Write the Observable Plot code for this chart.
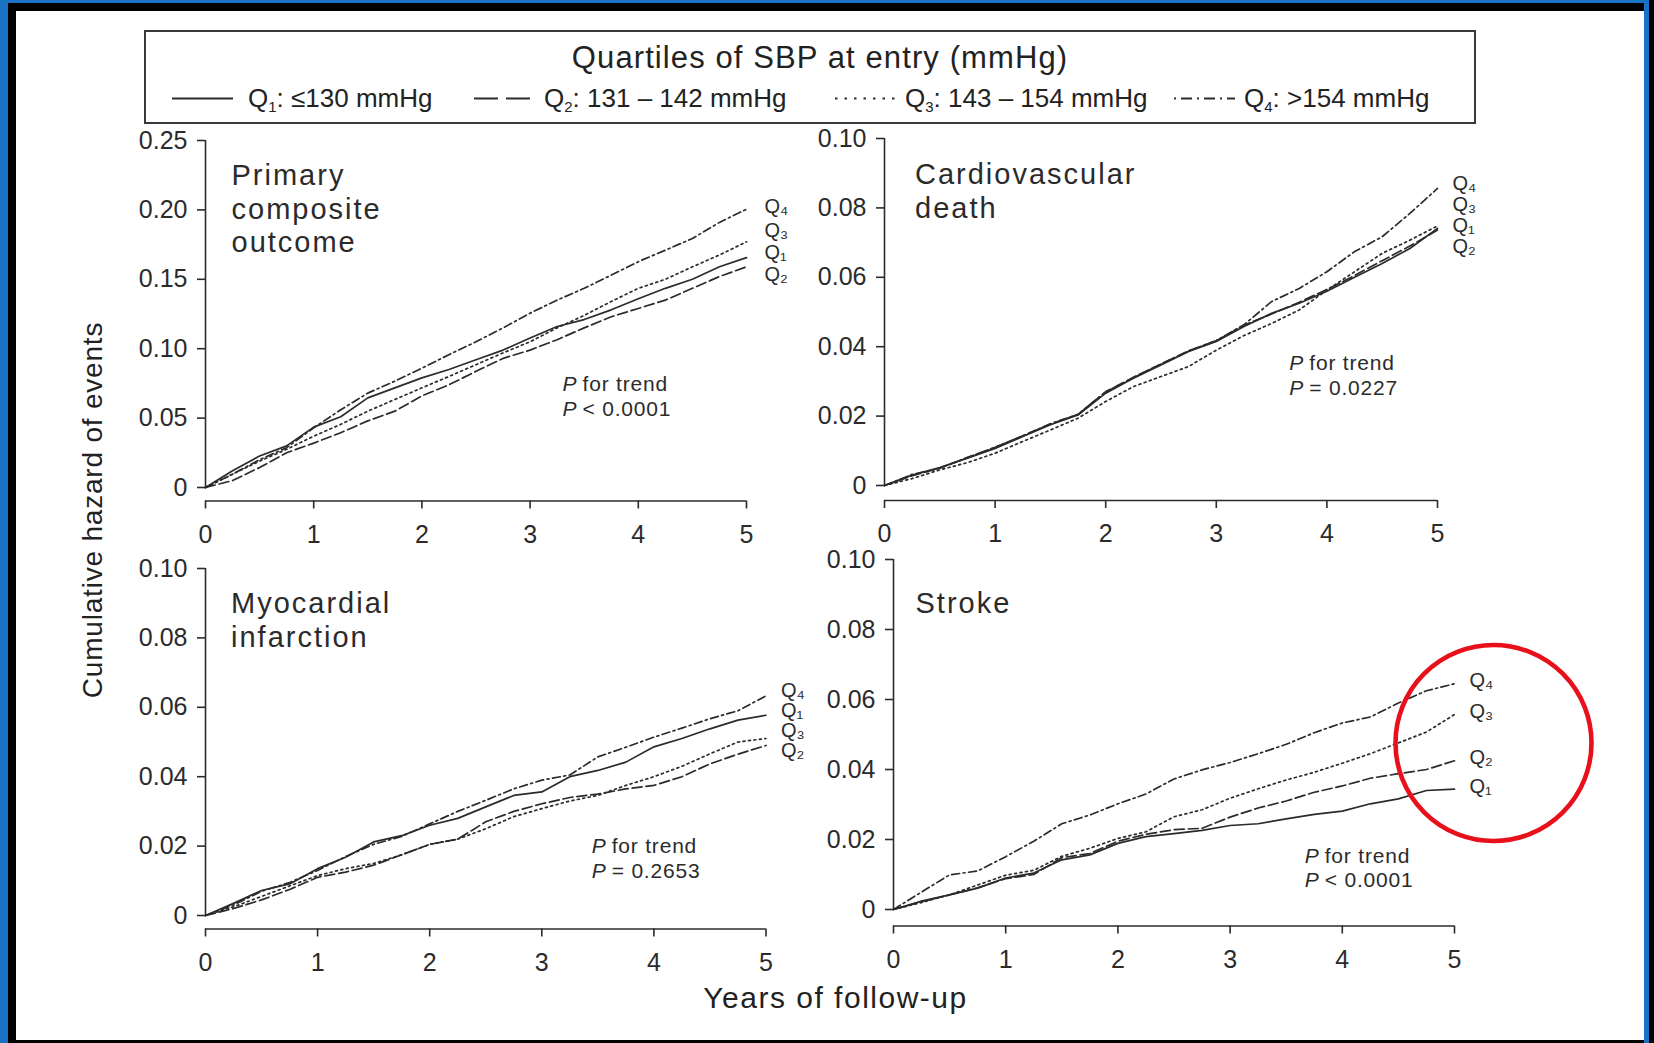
<!DOCTYPE html>
<html>
<head>
<meta charset="utf-8">
<title>Cumulative hazard of events by quartile of SBP at entry</title>
<script src="https://cdn.jsdelivr.net/npm/d3@7"></script>
<script src="https://cdn.jsdelivr.net/npm/@observablehq/plot@0.6"></script>
<style>
  html, body { margin: 0; padding: 0; background: #000; }
  #page { position: relative; width: 1654px; height: 1043px; overflow: hidden; background: #000;
          font-family: "Liberation Sans", Arial, sans-serif; color: #222; }
  .edge-blue { position: absolute; left: 0; top: 0; width: 1649px; height: 1043px; background: #1a72c4; }
  .edge-black { position: absolute; left: 8px; top: 3px; width: 1636px; height: 1040px; background: #000; }
  .sheet { position: absolute; left: 16px; top: 11px; width: 1628px; height: 1029px; background: #fff; }
  #legend { position: absolute; left: 143.5px; top: 29.5px; width: 1332px; height: 94px;
            box-sizing: border-box; border: 2px solid #3a3a3a; }
  #legend .title { position: absolute; left: 21px; right: 0; top: 26.5px; transform: translateY(-50%);
                   text-align: center; font-size: 31px; letter-spacing: 1.1px; white-space: nowrap; }
  #legend .entry { position: absolute; top: 66.5px; transform: translateY(-50%); display: flex;
                   align-items: center; font-size: 26px; white-space: nowrap; }
  #legend sub { font-size: 15px; vertical-align: -5px; line-height: 0; }
  .panel { position: absolute; }
  .axis-title { position: absolute; white-space: nowrap; transform: translate(-50%, -50%); }
</style>
</head>
<body>
<div id="page">
  <div class="edge-blue"></div>
  <div class="edge-black"></div>
  <div class="sheet"></div>
  <div id="legend"></div>
</div>
<script>
// ---- data -------------------------------------------------------------
const years = [0, 0.25, 0.5, 0.75, 1, 1.25, 1.5, 1.75, 2, 2.25, 2.5, 2.75,
               3, 3.25, 3.5, 3.75, 4, 4.25, 4.5, 4.75, 5];
const yearTicks = [0, 1, 2, 3, 4, 5];
const primaryTicks = [0, 0.05, 0.10, 0.15, 0.20, 0.25];
const eventTicks = [0, 0.02, 0.04, 0.06, 0.08, 0.10];

const quartiles = ["Q1", "Q2", "Q3", "Q4"];
const quartileRanges = ["≤130 mmHg", "131 – 142 mmHg", "143 – 154 mmHg", ">154 mmHg"];
const outcomes = ["Primary\ncomposite\noutcome", "Cardiovascular\ndeath", "Myocardial\ninfarction", "Stroke"];
const trendP = ["< 0.0001", "= 0.0227", "= 0.2653", "< 0.0001"];

// cumulative hazard, primary composite outcome
const primaryQ1 = [0, 0.0120, 0.0227, 0.0300, 0.0435, 0.0510, 0.0646, 0.0718, 0.0790, 0.0850, 0.0920,
                   0.0990, 0.1077, 0.1160, 0.1210, 0.1280, 0.1360, 0.1435, 0.1500, 0.1590, 0.1656];
const primaryQ2 = [0, 0.0050, 0.0144, 0.0250, 0.0320, 0.0395, 0.0480, 0.0550, 0.0660, 0.0740, 0.0837,
                   0.0930, 0.0990, 0.1065, 0.1150, 0.1230, 0.1290, 0.1350, 0.1435, 0.1520, 0.1590];
const primaryQ3 = [0, 0.0096, 0.0190, 0.0275, 0.0370, 0.0455, 0.0550, 0.0634, 0.0718, 0.0800, 0.0885,
                   0.0970, 0.1050, 0.1150, 0.1240, 0.1340, 0.1435, 0.1500, 0.1590, 0.1675, 0.1770];
const primaryQ4 = [0, 0.0096, 0.0200, 0.0287, 0.0430, 0.0560, 0.0680, 0.0766, 0.0860, 0.0957, 0.1050,
                   0.1150, 0.1256, 0.1350, 0.1435, 0.1530, 0.1627, 0.1710, 0.1794, 0.1910, 0.2005];

// cumulative hazard, cardiovascular death
const cvDeathQ1 = [0, 0.0030, 0.0052, 0.0079, 0.0107, 0.0141, 0.0175, 0.0203, 0.0266, 0.0309, 0.0347,
                   0.0386, 0.0415, 0.0458, 0.0496, 0.0525, 0.0560, 0.0600, 0.0640, 0.0683, 0.0741];
const cvDeathQ2 = [0, 0.0028, 0.0050, 0.0081, 0.0110, 0.0143, 0.0177, 0.0205, 0.0270, 0.0312, 0.0350,
                   0.0388, 0.0417, 0.0462, 0.0494, 0.0528, 0.0565, 0.0605, 0.0648, 0.0690, 0.0736];
const cvDeathQ3 = [0, 0.0020, 0.0045, 0.0066, 0.0093, 0.0127, 0.0160, 0.0194, 0.0242, 0.0285, 0.0314,
                   0.0343, 0.0390, 0.0432, 0.0467, 0.0506, 0.0563, 0.0616, 0.0669, 0.0707, 0.0748];
const cvDeathQ4 = [0, 0.0032, 0.0050, 0.0080, 0.0110, 0.0143, 0.0178, 0.0205, 0.0270, 0.0310, 0.0350,
                   0.0388, 0.0418, 0.0463, 0.0530, 0.0568, 0.0616, 0.0674, 0.0717, 0.0784, 0.0856];

// cumulative hazard, myocardial infarction
const miQ1 = [0, 0.0035, 0.0072, 0.0091, 0.0135, 0.0168, 0.0212, 0.0230, 0.0260, 0.0280, 0.0313,
              0.0346, 0.0356, 0.0400, 0.0418, 0.0442, 0.0486, 0.0510, 0.0538, 0.0563, 0.0577];
const miQ2 = [0, 0.0020, 0.0045, 0.0075, 0.0110, 0.0125, 0.0145, 0.0175, 0.0205, 0.0220, 0.0270,
              0.0300, 0.0322, 0.0340, 0.0350, 0.0365, 0.0375, 0.0400, 0.0437, 0.0465, 0.0490];
const miQ3 = [0, 0.0025, 0.0055, 0.0085, 0.0115, 0.0135, 0.0150, 0.0175, 0.0205, 0.0220, 0.0250,
              0.0285, 0.0308, 0.0330, 0.0346, 0.0375, 0.0400, 0.0430, 0.0466, 0.0500, 0.0510];
const miQ4 = [0, 0.0030, 0.0070, 0.0095, 0.0130, 0.0170, 0.0205, 0.0228, 0.0264, 0.0300, 0.0332,
              0.0365, 0.0390, 0.0405, 0.0457, 0.0485, 0.0514, 0.0540, 0.0567, 0.0590, 0.0633];

// cumulative hazard, stroke
const strokeQ1 = [0, 0.0024, 0.0042, 0.0061, 0.0090, 0.0104, 0.0142, 0.0156, 0.0189, 0.0208, 0.0217,
                  0.0226, 0.0240, 0.0245, 0.0259, 0.0272, 0.0281, 0.0302, 0.0316, 0.0340, 0.0344];
const strokeQ2 = [0, 0.0022, 0.0042, 0.0062, 0.0088, 0.0100, 0.0148, 0.0160, 0.0195, 0.0215, 0.0228,
                  0.0232, 0.0264, 0.0290, 0.0310, 0.0335, 0.0353, 0.0375, 0.0388, 0.0400, 0.0425];
const strokeQ3 = [0, 0.0020, 0.0042, 0.0070, 0.0098, 0.0112, 0.0152, 0.0175, 0.0203, 0.0222, 0.0265,
                  0.0285, 0.0318, 0.0345, 0.0370, 0.0392, 0.0418, 0.0445, 0.0476, 0.0507, 0.0557];
const strokeQ4 = [0, 0.0050, 0.0099, 0.0110, 0.0151, 0.0195, 0.0245, 0.0270, 0.0302, 0.0330, 0.0373,
                  0.0399, 0.0420, 0.0445, 0.0472, 0.0505, 0.0533, 0.0550, 0.0590, 0.0625, 0.0645];

// ---- styles and layout -----------------------------------------------
const ink = "#2b2b2b";
const lineDash = {Q1: undefined, Q2: "10,4", Q3: "2,3.5", Q4: "8,3.5,2,3.5"};
const legendDash = {Q1: undefined, Q2: "24,8", Q3: "2.5,7", Q4: "2,5,11,5"};
const legendLeft = [26.5, 328.5, 689.5, 1028.5];
const legendGap = [15, 9, 9, 9];

const seriesByOutcome = [
  {Q1: primaryQ1, Q2: primaryQ2, Q3: primaryQ3, Q4: primaryQ4},
  {Q1: cvDeathQ1, Q2: cvDeathQ2, Q3: cvDeathQ3, Q4: cvDeathQ4},
  {Q1: miQ1, Q2: miQ2, Q3: miQ3, Q4: miQ4},
  {Q1: strokeQ1, Q2: strokeQ2, Q3: strokeQ3, Q4: strokeQ4}
];
const tickSets = [primaryTicks, eventTicks, eventTicks, eventTicks];

// page position of each panel's frame; note = top-left of the trend note in data units
const panelLayout = [
  {left: 205,   right: 746,    top: 139.5, zero: 486.5, axis: 500, titleDx: 26,   titleDy: 20,   note: [3.30, 0.0821],  labelDx: 18, labelGap: 22, marginRight: 60},
  {left: 884,   right: 1437,   top: 138,   zero: 485,   axis: 500, titleDx: 30.5, titleDy: 21.5, note: [3.66, 0.0385],  labelDx: 15, labelGap: 21, marginRight: 60},
  {left: 204.5, right: 765,    top: 567.5, zero: 914.5, axis: 928, titleDx: 25.5, titleDy: 20,   note: [3.445, 0.0231], labelDx: 15, labelGap: 20, marginRight: 60},
  {left: 892.5, right: 1453.5, top: 558.5, zero: 908.5, axis: 925, titleDx: 22,   titleDy: 29,   note: [3.665, 0.0185], labelDx: 15, labelGap: 21, marginRight: 150, highlight: true}
];

const page = document.getElementById("page");

// ---- legend ----------------------------------------------------------
const legend = d3.select("#legend");
legend.append("div").attr("class", "title").text("Quartiles of SBP at entry (mmHg)");
quartiles.forEach((q, i) => {
  const entry = legend.append("div").attr("class", "entry").style("left", legendLeft[i] + "px");
  const s = entry.append("svg").attr("width", 61).attr("height", 12).style("margin-right", legendGap[i] + "px");
  s.append("line").attr("x1", 0).attr("x2", 61).attr("y1", 6).attr("y2", 6)
    .attr("stroke", ink).attr("stroke-width", 1.8)
    .attr("stroke-dasharray", legendDash[q] ?? null);
  const label = entry.append("span");
  label.append("span").text("Q");
  label.append("sub").text(q.slice(1));
  label.append("span").text(": " + quartileRanges[i]);
});

// ---- panels ----------------------------------------------------------
const subscript = q => "Q" + String.fromCharCode(0x2080 + Number(q.slice(1)));
const tickFormat = d => d === 0 ? "0" : d.toFixed(2);

// push end labels apart so that neighbours keep at least `gap` pixels
function spreadLabels(ends, pxPerUnit, gap) {
  const items = ends.map(d => ({...d, px: -d.value * pxPerUnit})).sort((a, b) => a.px - b.px);
  const top = c => c.sum / c.items.length - (c.items.length - 1) * gap / 2;
  let clusters = items.map(d => ({items: [d], sum: d.px}));
  let merged = true;
  while (merged) {
    merged = false;
    for (let i = 0; i < clusters.length - 1; i++) {
      const a = clusters[i], b = clusters[i + 1];
      if (top(a) + a.items.length * gap > top(b)) {
        clusters.splice(i, 2, {items: a.items.concat(b.items), sum: a.sum + b.sum});
        merged = true;
        break;
      }
    }
  }
  clusters.forEach(c => c.items.forEach((d, j) => { d.labelPx = top(c) + j * gap; }));
  return items.map(d => ({q: d.q, year: d.year, value: -d.labelPx / pxPerUnit}));
}

function letterSpacing(svg, fontSize, spacing) {
  svg.querySelectorAll(`g[font-size="${fontSize}"] text`).forEach(t => t.setAttribute("letter-spacing", spacing));
}

panelLayout.forEach((L, i) => {
  const series = seriesByOutcome[i];
  const ticks = tickSets[i];
  const yMax = ticks[ticks.length - 1];
  const ML = 90, MT = 20, MB = 60, MR = L.marginRight;
  const inset = L.axis - L.zero;
  const width = ML + (L.right - L.left) + MR;
  const height = MT + (L.axis - L.top) + MB;
  const pxPerUnit = (L.zero - L.top) / yMax;
  const lastYear = years[years.length - 1];

  const rows = quartiles.flatMap(q => years.map((year, k) => ({q, year, value: series[q][k]})));
  const ends = quartiles.map(q => ({q, year: lastYear, value: series[q][series[q].length - 1]}));
  const labels = spreadLabels(ends, pxPerUnit, L.labelGap);

  const marks = [
    Plot.axisY(ticks, {tickSize: 8, tickPadding: 10, tickFormat, fontSize: 25, strokeWidth: 1.6, label: null}),
    Plot.axisX(yearTicks, {tickSize: 8, tickPadding: 16, fontSize: 25, strokeWidth: 1.6, label: null}),
    Plot.ruleX([years[0]], {y1: 0, y2: yMax, stroke: ink, strokeWidth: 1.6}),
    Plot.ruleY([0], {x1: years[0], x2: lastYear, dy: inset, stroke: ink, strokeWidth: 1.6}),
    ...quartiles.map(q => Plot.line(rows.filter(d => d.q === q), {
      x: "year", y: "value", stroke: ink, strokeWidth: 1.7, strokeDasharray: lineDash[q]
    })),
    Plot.text(labels, {x: "year", y: "value", text: d => subscript(d.q), dx: L.labelDx, dy: -3,
                       textAnchor: "start", fontSize: 20}),
    Plot.text([outcomes[i]], {frameAnchor: "top-left", dx: L.titleDx, dy: L.titleDy,
                              textAnchor: "start", lineAnchor: "top", fontSize: 29, lineHeight: 1.17}),
    Plot.text(["P\nP"], {x: L.note[0], y: L.note[1], textAnchor: "start", lineAnchor: "top",
                         fontSize: 21, lineHeight: 1.19, fontStyle: "italic"}),
    Plot.text([`for trend\n${trendP[i]}`], {x: L.note[0], y: L.note[1], dx: 20, textAnchor: "start",
                         lineAnchor: "top", fontSize: 21, lineHeight: 1.19})
  ];

  if (L.highlight) {
    // ring drawn around the stroke end labels
    const mid = [{year: lastYear, value: d3.mean(ends, d => d.value)}];
    marks.push(Plot.dot(mid, {x: "year", y: "value", r: 98, dx: 39, dy: 6,
                              fill: "none", stroke: "#e8111b", strokeWidth: 4.6}));
  }

  const svg = Plot.plot({
    width, height,
    marginLeft: ML, marginRight: MR, marginTop: MT, marginBottom: MB,
    insetBottom: inset, insetTop: 0, insetLeft: 0, insetRight: 0,
    x: {domain: [years[0], lastYear]},
    y: {domain: [0, yMax]},
    style: {fontFamily: "'Liberation Sans', Arial, sans-serif", fontSize: "25px", color: ink,
            background: "transparent", overflow: "visible", maxWidth: "none"},
    marks
  });
  letterSpacing(svg, 29, 2);
  letterSpacing(svg, 21, 0.8);
  svg.classList.add("panel");
  svg.style.position = "absolute";
  svg.style.left = (L.left - ML) + "px";
  svg.style.top = (L.top - MT) + "px";
  page.appendChild(svg);
});

// ---- shared axis titles ----------------------------------------------
d3.select(page).append("div").attr("class", "axis-title")
  .style("left", "93px").style("top", "510px")
  .style("transform", "translate(-50%, -50%) rotate(-90deg)")
  .style("font-size", "28px").style("letter-spacing", "0.8px")
  .text("Cumulative hazard of events");
d3.select(page).append("div").attr("class", "axis-title")
  .style("left", "835.5px").style("top", "998px")
  .style("font-size", "30px").style("letter-spacing", "1.5px")
  .text("Years of follow-up");
</script>
</body>
</html>
